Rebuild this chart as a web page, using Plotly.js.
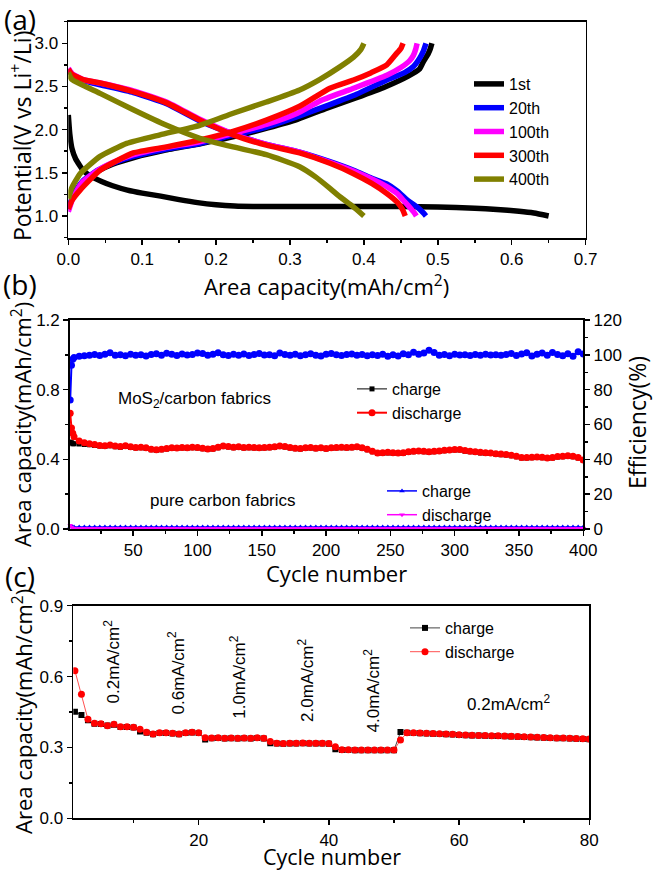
<!DOCTYPE html>
<html>
<head>
<meta charset="utf-8">
<script src="https://cdn.plot.ly/plotly-3.0.1.min.js"></script>
<style>html,body{margin:0;padding:0;background:#fff;}#chart{width:653px;height:872px;}</style>
</head>
<body>
<div id="chart"></div>
<script>
// ---------- Panel (a): voltage profiles ----------
const a_names = ['1st', '20th', '100th', '300th', '400th'];
const a_colors = ['#000000', '#0000ff', '#ff00ff', '#ff0000', '#808000'];

const c1_dis_cap = [0, 0.002, 0.005, 0.01, 0.02, 0.03, 0.045, 0.06, 0.08, 0.1, 0.125, 0.15, 0.175, 0.2, 0.225, 0.25, 0.3, 0.35, 0.4, 0.45, 0.5, 0.55, 0.58, 0.61, 0.63, 0.65];
const c1_dis_v   = [2.17, 1.95, 1.78, 1.66, 1.53, 1.46, 1.40, 1.35, 1.30, 1.265, 1.23, 1.19, 1.155, 1.13, 1.115, 1.11, 1.11, 1.11, 1.11, 1.11, 1.105, 1.09, 1.075, 1.055, 1.035, 1.0];
const c1_ch_cap  = [0, 0.005, 0.01, 0.02, 0.04, 0.06, 0.09, 0.13, 0.18, 0.23, 0.27, 0.31, 0.35, 0.39, 0.43, 0.46, 0.475, 0.48, 0.487, 0.49, 0.492];
const c1_ch_v    = [1.08, 1.2, 1.28, 1.40, 1.52, 1.60, 1.68, 1.76, 1.84, 1.93, 2.02, 2.12, 2.25, 2.37, 2.50, 2.62, 2.70, 2.78, 2.88, 2.94, 3.0];

const c20_dis_cap = [0, 0.005, 0.02, 0.043, 0.088, 0.133, 0.178, 0.223, 0.268, 0.313, 0.354, 0.386, 0.41, 0.431, 0.445, 0.458, 0.471, 0.48, 0.484];
const c20_dis_v   = [2.70, 2.64, 2.57, 2.52, 2.43, 2.30, 2.10, 1.95, 1.83, 1.74, 1.63, 1.53, 1.44, 1.37, 1.29, 1.19, 1.11, 1.04, 1.0];
const c20_ch_cap  = [0, 0.005, 0.01, 0.02, 0.04, 0.06, 0.088, 0.13, 0.178, 0.22, 0.268, 0.31, 0.354, 0.39, 0.431, 0.455, 0.467, 0.475, 0.48, 0.484];
const c20_ch_v    = [1.08, 1.2, 1.29, 1.41, 1.53, 1.61, 1.69, 1.77, 1.84, 1.93, 2.03, 2.15, 2.29, 2.41, 2.575, 2.66, 2.73, 2.82, 2.9, 3.0];

const c100_dis_cap = [0, 0.005, 0.02, 0.043, 0.088, 0.133, 0.178, 0.223, 0.268, 0.313, 0.354, 0.386, 0.41, 0.431, 0.445, 0.453, 0.462, 0.468, 0.471];
const c100_dis_v   = [2.71, 2.65, 2.58, 2.54, 2.45, 2.32, 2.12, 1.95, 1.83, 1.74, 1.62, 1.52, 1.43, 1.34, 1.26, 1.185, 1.1, 1.04, 1.0];
const c100_ch_cap  = [0, 0.005, 0.01, 0.02, 0.04, 0.06, 0.088, 0.13, 0.178, 0.22, 0.268, 0.31, 0.34, 0.38, 0.431, 0.45, 0.462, 0.467, 0.47, 0.472];
const c100_ch_v    = [1.05, 1.18, 1.27, 1.40, 1.53, 1.62, 1.71, 1.79, 1.86, 1.95, 2.06, 2.19, 2.33, 2.46, 2.63, 2.72, 2.80, 2.86, 2.93, 3.0];

const c300_dis_cap = [0, 0.005, 0.02, 0.043, 0.088, 0.133, 0.178, 0.223, 0.268, 0.313, 0.354, 0.386, 0.41, 0.431, 0.445, 0.452, 0.456];
const c300_dis_v   = [2.70, 2.64, 2.58, 2.54, 2.44, 2.31, 2.11, 1.94, 1.82, 1.73, 1.61, 1.49, 1.38, 1.26, 1.16, 1.08, 1.0];
const c300_ch_cap  = [0, 0.005, 0.016, 0.043, 0.088, 0.133, 0.178, 0.223, 0.268, 0.313, 0.354, 0.386, 0.41, 0.431, 0.444, 0.45, 0.453];
const c300_ch_v    = [1.08, 1.18, 1.30, 1.53, 1.73, 1.80, 1.88, 1.98, 2.11, 2.27, 2.48, 2.575, 2.66, 2.75, 2.88, 2.94, 3.0];

const c400_dis_cap = [0, 0.005, 0.043, 0.088, 0.133, 0.178, 0.223, 0.268, 0.313, 0.335, 0.354, 0.368, 0.385, 0.40];
const c400_dis_v   = [2.66, 2.58, 2.42, 2.23, 2.05, 1.90, 1.80, 1.71, 1.57, 1.45, 1.32, 1.22, 1.11, 1.0];
const c400_ch_cap  = [0, 0.005, 0.016, 0.03, 0.043, 0.079, 0.124, 0.178, 0.223, 0.268, 0.313, 0.34, 0.368, 0.386, 0.396, 0.4];
const c400_ch_v    = [1.2, 1.33, 1.49, 1.60, 1.69, 1.84, 1.94, 2.05, 2.19, 2.32, 2.46, 2.58, 2.73, 2.84, 2.93, 3.0];

// ---------- Panel (b): cycling ----------
const b_cycles = [1,2,3,
4,8,12,16,20,24,28,32,36,40,
44,48,52,56,60,64,68,72,76,80,
84,88,92,96,100,104,108,112,116,120,
124,128,132,136,140,144,148,152,156,160,
164,168,172,176,180,184,188,192,196,200,
204,208,212,216,220,224,228,232,236,240,
244,248,252,256,260,264,268,272,276,280,
284,288,292,296,300,304,308,312,316,320,
324,328,332,336,340,344,348,352,356,360,
364,368,372,376,380,384,388,392,396,400];

const b_mos2_discharge = [0.665,0.58,0.55,
0.53,0.505,0.495,0.49,0.485,0.48,0.478,0.482,0.476,0.474,
0.478,0.472,0.468,0.47,0.466,0.458,0.455,0.458,0.462,0.466,
0.465,0.468,0.466,0.47,0.468,0.464,0.46,0.462,0.47,0.476,
0.474,0.47,0.472,0.468,0.47,0.468,0.466,0.468,0.47,0.472,
0.476,0.474,0.468,0.464,0.462,0.466,0.468,0.464,0.466,0.462,
0.466,0.468,0.47,0.468,0.47,0.472,0.466,0.458,0.446,0.436,
0.438,0.44,0.438,0.436,0.438,0.444,0.446,0.448,0.446,0.444,
0.446,0.448,0.452,0.454,0.456,0.456,0.45,0.446,0.444,0.44,
0.438,0.436,0.432,0.43,0.428,0.424,0.418,0.41,0.41,0.412,
0.414,0.412,0.408,0.41,0.416,0.418,0.42,0.418,0.41,0.396];

const b_mos2_charge = [0.5,0.495,0.49,
0.49,0.488,0.485,0.484,0.48,0.476,0.474,0.478,0.472,0.47,
0.474,0.468,0.465,0.467,0.462,0.455,0.452,0.455,0.459,0.463,
0.462,0.465,0.463,0.467,0.465,0.461,0.457,0.459,0.467,0.473,
0.471,0.467,0.469,0.465,0.467,0.465,0.463,0.465,0.467,0.469,
0.473,0.471,0.465,0.461,0.459,0.463,0.465,0.461,0.463,0.459,
0.463,0.465,0.467,0.465,0.467,0.469,0.463,0.455,0.443,0.433,
0.435,0.437,0.435,0.433,0.435,0.441,0.443,0.445,0.443,0.441,
0.443,0.445,0.449,0.451,0.453,0.453,0.447,0.443,0.441,0.437,
0.435,0.433,0.429,0.427,0.425,0.421,0.415,0.407,0.407,0.409,
0.411,0.409,0.405,0.407,0.413,0.415,0.417,0.415,0.407,0.393];

const b_efficiency = [74,94,97.5,
98.5,99.2,99.5,99.8,100.2,99.6,100.4,101.2,99.8,100.1,
99.5,100.3,99.7,100.0,99.4,100.2,100.6,99.8,100.9,100.3,
99.6,100.5,99.9,100.2,101.0,100.8,99.7,100.4,101.2,100.1,
99.6,100.3,99.8,100.5,99.6,100.2,100.7,99.9,100.1,99.5,
101.0,100.2,99.7,100.4,99.5,100.0,100.6,99.8,99.4,100.3,
100.8,100.1,99.6,100.2,100.5,99.8,100.2,99.5,100.0,99.6,
100.3,99.2,100.1,99.4,100.6,100.0,101.5,100.3,101.0,102.6,
101.4,99.8,100.2,99.5,100.4,99.9,100.1,99.6,100.2,99.8,
100.3,99.9,100.0,99.7,100.2,100.8,99.6,100.5,101.2,99.4,
100.3,101.0,99.8,101.4,100.2,99.5,100.6,99.2,101.8,100.5];

const b_pure_charge = [0.014,0.013,0.012,
0.012,0.012,0.012,0.012,0.012,0.012,0.012,0.012,0.012,0.012,
0.012,0.012,0.012,0.012,0.012,0.012,0.012,0.012,0.012,0.012,
0.012,0.012,0.012,0.012,0.012,0.012,0.012,0.012,0.012,0.012,
0.012,0.012,0.012,0.012,0.012,0.012,0.012,0.012,0.012,0.012,
0.012,0.012,0.012,0.012,0.012,0.012,0.012,0.012,0.012,0.012,
0.012,0.012,0.012,0.012,0.012,0.012,0.012,0.012,0.012,0.012,
0.012,0.012,0.012,0.012,0.012,0.012,0.012,0.012,0.012,0.012,
0.012,0.012,0.012,0.012,0.012,0.012,0.012,0.012,0.012,0.012,
0.012,0.012,0.012,0.012,0.012,0.012,0.012,0.012,0.012,0.012,
0.012,0.012,0.012,0.012,0.012,0.012,0.012,0.012,0.012,0.012];

const b_pure_discharge = [0.022,0.012,0.006,
0.005,0.005,0.005,0.005,0.005,0.005,0.005,0.005,0.005,0.005,
0.005,0.005,0.005,0.005,0.005,0.005,0.005,0.005,0.005,0.005,
0.005,0.005,0.005,0.005,0.005,0.005,0.005,0.005,0.005,0.005,
0.005,0.005,0.005,0.005,0.005,0.005,0.005,0.005,0.005,0.005,
0.005,0.005,0.005,0.005,0.005,0.005,0.005,0.005,0.005,0.005,
0.005,0.005,0.005,0.005,0.005,0.005,0.005,0.005,0.005,0.005,
0.005,0.005,0.005,0.005,0.005,0.005,0.005,0.005,0.005,0.005,
0.005,0.005,0.005,0.005,0.005,0.005,0.005,0.005,0.005,0.005,
0.005,0.005,0.005,0.005,0.005,0.005,0.005,0.005,0.005,0.005,
0.005,0.005,0.005,0.005,0.005,0.005,0.005,0.005,0.005,0.005];

// ---------- Panel (c): rate capability ----------
const c_cycles = [1,2,3,4,5,6,7,8,9,10,
11,12,13,14,15,16,17,18,19,20,
21,22,23,24,25,26,27,28,29,30,
31,32,33,34,35,36,37,38,39,40,
41,42,43,44,45,46,47,48,49,50,
51,52,53,54,55,56,57,58,59,60,
61,62,63,64,65,66,67,68,69,70,
71,72,73,74,75,76,77,78,79,80];

const c_discharge = [0.625,0.525,0.419,0.402,0.400,0.392,0.398,0.388,0.388,0.385,
0.377,0.364,0.357,0.362,0.362,0.360,0.357,0.362,0.364,0.362,
0.341,0.340,0.341,0.339,0.340,0.339,0.340,0.339,0.341,0.339,
0.325,0.318,0.317,0.318,0.318,0.319,0.318,0.318,0.318,0.317,
0.303,0.290,0.290,0.289,0.289,0.289,0.289,0.289,0.289,0.289,
0.331,0.362,0.362,0.361,0.360,0.359,0.358,0.357,0.356,0.354,
0.353,0.352,0.351,0.350,0.349,0.349,0.348,0.347,0.346,0.345,
0.344,0.343,0.342,0.341,0.340,0.340,0.339,0.338,0.337,0.336];

const c_charge = [0.451,0.437,0.415,0.400,0.399,0.393,0.396,0.387,0.387,0.384,
0.367,0.362,0.356,0.361,0.361,0.359,0.356,0.361,0.363,0.361,
0.334,0.339,0.340,0.338,0.339,0.338,0.339,0.338,0.340,0.338,
0.318,0.317,0.316,0.317,0.317,0.318,0.317,0.317,0.317,0.316,
0.292,0.289,0.289,0.288,0.288,0.288,0.288,0.288,0.288,0.288,
0.365,0.362,0.361,0.360,0.359,0.358,0.357,0.356,0.355,0.353,
0.352,0.351,0.350,0.349,0.348,0.348,0.347,0.346,0.345,0.344,
0.343,0.342,0.341,0.340,0.339,0.339,0.338,0.337,0.336,0.335];

const c_rate_labels = ['0.2mA/cm<sup>2</sup>', '0.6mA/cm<sup>2</sup>', '1.0mA/cm<sup>2</sup>', '2.0mA/cm<sup>2</sup>', '4.0mA/cm<sup>2</sup>', '0.2mA/cm<sup>2</sup>'];

// ---------- Build traces ----------
const a_sets = [
  [c1_dis_cap, c1_dis_v, c1_ch_cap, c1_ch_v],
  [c20_dis_cap, c20_dis_v, c20_ch_cap, c20_ch_v],
  [c100_dis_cap, c100_dis_v, c100_ch_cap, c100_ch_v],
  [c300_dis_cap, c300_dis_v, c300_ch_cap, c300_ch_v],
  [c400_dis_cap, c400_dis_v, c400_ch_cap, c400_ch_v]
];
const traces = [];
a_sets.forEach((s, i) => {
  traces.push({
    type: 'scatter', mode: 'lines', name: a_names[i],
    x: s[0].concat([null], s[2]), y: s[1].concat([null], s[3]),
    xaxis: 'x', yaxis: 'y', legend: 'legend',
    line: {color: a_colors[i], width: 5.5, shape: 'spline', smoothing: 0.5},
    connectgaps: false
  });
});

traces.push({type:'scatter', mode:'lines+markers', name:'charge', x:b_cycles, y:b_mos2_charge,
  xaxis:'x2', yaxis:'y2', legend:'legend2',
  line:{color:'#000000', width:1}, marker:{symbol:'square', size:5, color:'#000000'}});
traces.push({type:'scatter', mode:'lines+markers', name:'discharge', x:b_cycles, y:b_mos2_discharge,
  xaxis:'x2', yaxis:'y2', legend:'legend2',
  line:{color:'#ff0000', width:2}, marker:{symbol:'circle', size:7, color:'#ff0000'}});
traces.push({type:'scatter', mode:'lines+markers', name:'efficiency', x:b_cycles, y:b_efficiency,
  xaxis:'x2', yaxis:'y3', showlegend:false,
  line:{color:'#0000ff', width:2}, marker:{symbol:'circle', size:7, color:'#0000ff'}});
traces.push({type:'scatter', mode:'lines+markers', name:'charge', x:b_cycles, y:b_pure_charge,
  xaxis:'x2', yaxis:'y2', legend:'legend3', cliponaxis:false,
  line:{color:'#0000ff', width:1.5}, marker:{symbol:'triangle-up', size:5, color:'#0000ff'}});
traces.push({type:'scatter', mode:'lines+markers', name:'discharge', x:b_cycles, y:b_pure_discharge,
  xaxis:'x2', yaxis:'y2', legend:'legend3', cliponaxis:false,
  line:{color:'#ff00ff', width:1.5}, marker:{symbol:'triangle-down', size:5, color:'#ff00ff'}});

traces.push({type:'scatter', mode:'lines+markers', name:'charge', x:c_cycles, y:c_charge,
  xaxis:'x3', yaxis:'y4', legend:'legend4',
  line:{color:'#444444', width:1}, marker:{symbol:'square', size:6, color:'#000000'}});
traces.push({type:'scatter', mode:'lines+markers', name:'discharge', x:c_cycles, y:c_discharge,
  xaxis:'x3', yaxis:'y4', legend:'legend4',
  line:{color:'#ff5050', width:1}, marker:{symbol:'circle', size:7, color:'#ff0000'}});

// ---------- Layout ----------
const W = 653, H = 872;
const px = v => v / W;
const py = v => 1 - v / H;
const tickFont = {family:'"Liberation Sans", Arial, sans-serif', size:17, color:'#000'};
const titleFont = {family:'"Open Sans", "Noto Sans", sans-serif', size:22, color:'#000'};
const titleFontS = {family:'"Open Sans", "Noto Sans", sans-serif', size:21.5, color:'#000'};
const titleFontL = {family:'"Open Sans", "Noto Sans", sans-serif', size:23, color:'#000'};
const panelFont = {family:'"Open Sans", sans-serif', size:28, color:'#000'};
const textFont = {family:'"Liberation Sans", Arial, sans-serif', size:17, color:'#000'};
function minor(d) { return {ticks:'outside', ticklen:3, tickwidth:1.5, tickcolor:'#000', dtick:d, showgrid:false}; }
function ax(extra) {
  return Object.assign({
    showline:true, linecolor:'#000', linewidth:1.8, mirror:true,
    ticks:'outside', ticklen:5, tickwidth:1.5, tickcolor:'#000',
    showgrid:false, zeroline:false, automargin:false,
    tickfont:tickFont
  }, extra);
}
const legFont = {family:'"Liberation Sans", Arial, sans-serif', size:16, color:'#000'};
function leg(x, y) {
  return {x:px(x), y:py(y), xanchor:'left', yanchor:'top', bgcolor:'rgba(0,0,0,0)',
          borderwidth:0, font:legFont, tracegroupgap:0, itemclick:false};
}
function note(text, x, y, font, angle) {
  return {text:text, x:px(x), y:py(y), xref:'paper', yref:'paper', showarrow:false,
          xanchor:'center', yanchor:'middle', textangle:angle || 0, font:font};
}

const layout = {
  width:W, height:H, margin:{l:0, r:0, t:0, b:0},
  paper_bgcolor:'#fff', plot_bgcolor:'#fff',
  font:{family:'"Liberation Sans", Arial, sans-serif', size:17, color:'#000'},
  showlegend:true,
  xaxis: ax({domain:[px(68.3), px(585.6)], anchor:'y', range:[0, 0.7], tick0:0, dtick:0.1, tickformat:'.1f', minor:minor(0.05)}),
  yaxis: ax({domain:[py(238), py(21.7)], anchor:'x', range:[0.745, 3.25], tick0:0, dtick:0.5, tickformat:'.1f', minor:minor(0.25)}),
  xaxis2: ax({domain:[px(70), px(583.3)], anchor:'y2', range:[0.85, 400], tick0:0, dtick:50, minor:minor(25)}),
  yaxis2: ax({domain:[py(529), py(320)], anchor:'x2', range:[0, 1.2], tick0:0, dtick:0.4, tickformat:'.1f', mirror:false, minor:minor(0.2)}),
  yaxis3: ax({overlaying:'y2', anchor:'x2', side:'right', range:[0, 120], tick0:0, dtick:20, mirror:false, minor:minor(10)}),
  xaxis3: ax({domain:[px(73.3), px(589.3)], anchor:'y4', range:[0.75, 80], tick0:0, dtick:20, minor:minor(10)}),
  yaxis4: ax({domain:[py(818.3), py(605.7)], anchor:'x3', range:[0, 0.9], tick0:0, dtick:0.3, tickformat:'.1f', minor:minor(0.15)}),
  legend: leg(469, 67),
  legend2: leg(352, 372),
  legend3: leg(382, 474),
  legend4: leg(405, 611),
  annotations: [
    note('(a)', 20, 19, panelFont),
    note('(b)', 20, 284, panelFont),
    note('(c)', 20, 576, panelFont),
    // axis titles
    note('Area capacity(mAh/cm<sup>2</sup>)', 326.5, 285, titleFont),
    note('Potential(V vs Li<sup>+</sup>/Li)', 21, 136, titleFontL, -90),
    note('Cycle number', 336, 573, titleFont),
    note('Area capacity(mAh/cm<sup>2</sup>)', 22, 425, titleFont, -90),
    note('Efficiency(%)', 637, 423, titleFontL, -90),
    note('Cycle number', 332, 856, titleFontS),
    note('Area capacity(mAh/cm<sup>2</sup>)', 22, 712, titleFont, -90),
    // in-plot labels
    note('MoS<sub>2</sub>/carbon fabrics', 194, 400, textFont),
    note('pure carbon fabrics', 223, 500, textFont),
    note(c_rate_labels[0], 111.7, 661.7, textFont, -90),
    note(c_rate_labels[1], 176, 672.5, textFont, -90),
    note(c_rate_labels[2], 237.3, 676.5, textFont, -90),
    note(c_rate_labels[3], 306, 680, textFont, -90),
    note(c_rate_labels[4], 371.7, 690.7, textFont, -90),
    note(c_rate_labels[5], 509, 703.3, textFont)
  ]
};

Plotly.newPlot('chart', traces, layout, {staticPlot:true, displayModeBar:false});
</script>
</body>
</html>
